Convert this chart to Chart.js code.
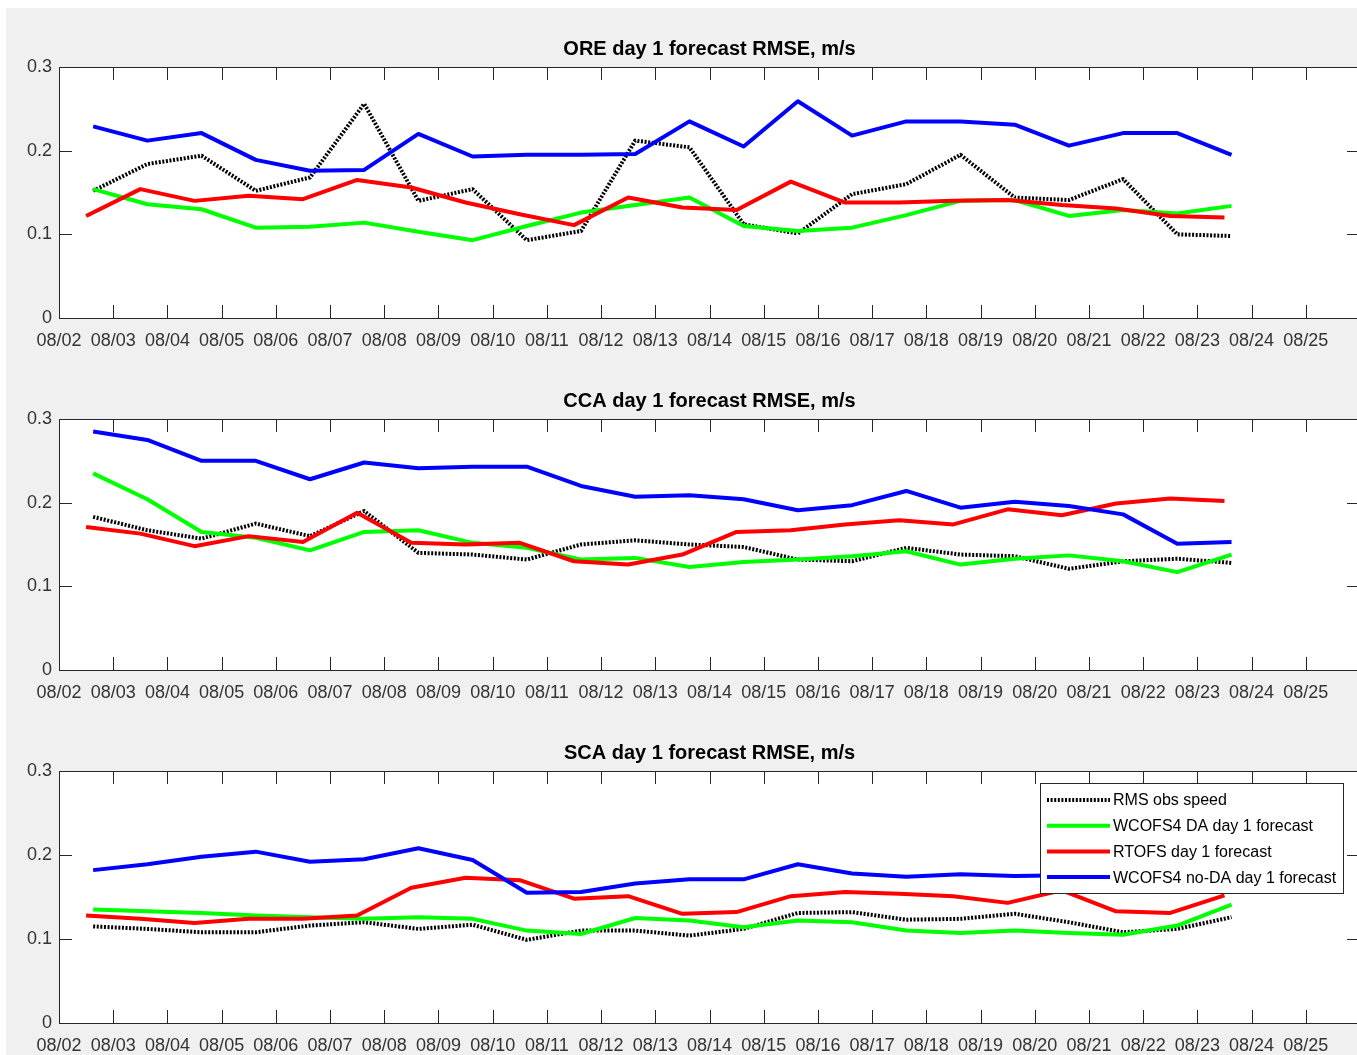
<!DOCTYPE html>
<html>
<head>
<meta charset="utf-8">
<script src="https://cdn.jsdelivr.net/npm/chart.js@4.4.1/dist/chart.umd.min.js"></script>
<style>
  html, body { margin: 0; padding: 0; background: #fff; overflow: hidden; width: 1357px; height: 1055px; }
  #figure { position: absolute; left: 6px; top: 8px; right: 0; bottom: 0; background: #f0f0f0; }
  .panel { position: absolute; left: 0; }
</style>
</head>
<body>
<div id="figure"></div>
<canvas id="oreChart" class="panel" width="1400" height="352" style="top:0px"></canvas>
<canvas id="ccaChart" class="panel" width="1400" height="352" style="top:352px"></canvas>
<canvas id="scaChart" class="panel" width="1400" height="353" style="top:704px"></canvas>
<script>
// x axis: days since 08/02
const DAY_LABELS = ['08/02', '08/03', '08/04', '08/05', '08/06', '08/07', '08/08', '08/09',
    '08/10', '08/11', '08/12', '08/13', '08/14', '08/15', '08/16', '08/17', '08/18', '08/19',
    '08/20', '08/21', '08/22', '08/23', '08/24', '08/25'];
const X_MAX = 24;
const Y_TICKS = [0, 0.1, 0.2, 0.3];
const Y_LABELS = ['0', '0.1', '0.2', '0.3'];

// forecast times (days after 08/02 00:00)
const MODEL_DAYS = [0.63, 1.63, 2.63, 3.63, 4.63, 5.63, 6.63, 7.63, 8.63, 9.63, 10.63,
    11.63, 12.63, 13.63, 14.63, 15.63, 16.63, 17.63, 18.63, 19.63, 20.63, 21.63];
const RTOFS_DAYS = [0.5, 1.5, 2.5, 3.5, 4.5, 5.5, 6.5, 7.5, 8.5, 9.5, 10.5,
    11.5, 12.5, 13.5, 14.5, 15.5, 16.5, 17.5, 18.5, 19.5, 20.5, 21.5];

const SERIES_NAMES = ['RMS obs speed', 'WCOFS4 DA day 1 forecast', 'RTOFS day 1 forecast', 'WCOFS4 no-DA day 1 forecast'];

// ORE
const ORE_OBS = [0.152, 0.184, 0.194, 0.152, 0.168, 0.256, 0.140, 0.154, 0.093, 0.104, 0.212,
    0.204, 0.112, 0.101, 0.148, 0.160, 0.195, 0.144, 0.141, 0.166, 0.100, 0.098];
const ORE_DA = [0.154, 0.136, 0.130, 0.108, 0.109, 0.114, 0.103, 0.093, 0.110, 0.126, 0.135,
    0.144, 0.110, 0.104, 0.108, 0.123, 0.140, 0.141, 0.122, 0.129, 0.125, 0.134];
const ORE_RTOFS = [0.122, 0.154, 0.140, 0.146, 0.142, 0.165, 0.156, 0.138, 0.124, 0.111, 0.144,
    0.132, 0.129, 0.163, 0.138, 0.138, 0.140, 0.141, 0.135, 0.131, 0.122, 0.120];
const ORE_NODA = [0.229, 0.212, 0.221, 0.189, 0.176, 0.177, 0.220, 0.193, 0.195, 0.195, 0.196,
    0.235, 0.205, 0.259, 0.218, 0.235, 0.235, 0.231, 0.206, 0.221, 0.221, 0.195];

// CCA
const CCA_OBS = [0.183, 0.167, 0.157, 0.175, 0.160, 0.190, 0.140, 0.138, 0.132, 0.150, 0.155,
    0.150, 0.147, 0.132, 0.130, 0.146, 0.138, 0.136, 0.121, 0.130, 0.133, 0.128];
const CCA_DA = [0.235, 0.204, 0.165, 0.158, 0.143, 0.165, 0.167, 0.152, 0.146, 0.132, 0.134,
    0.123, 0.129, 0.132, 0.136, 0.142, 0.126, 0.133, 0.137, 0.130, 0.117, 0.138];
const CCA_RTOFS = [0.171, 0.163, 0.148, 0.160, 0.153, 0.188, 0.152, 0.150, 0.152, 0.130, 0.126,
    0.138, 0.165, 0.167, 0.174, 0.179, 0.174, 0.192, 0.185, 0.199, 0.205, 0.202];
const CCA_NODA = [0.285, 0.275, 0.250, 0.250, 0.228, 0.248, 0.241, 0.243, 0.243, 0.220, 0.207,
    0.209, 0.204, 0.191, 0.197, 0.214, 0.194, 0.201, 0.196, 0.186, 0.151, 0.153];

// SCA
const SCA_OBS = [0.115, 0.112, 0.108, 0.108, 0.116, 0.120, 0.112, 0.117, 0.099, 0.110, 0.110,
    0.104, 0.112, 0.131, 0.132, 0.123, 0.124, 0.130, 0.120, 0.108, 0.112, 0.126];
const SCA_DA = [0.135, 0.133, 0.131, 0.128, 0.126, 0.124, 0.126, 0.124, 0.110, 0.106, 0.125,
    0.122, 0.114, 0.122, 0.120, 0.110, 0.107, 0.110, 0.107, 0.105, 0.116, 0.141];
const SCA_RTOFS = [0.128, 0.124, 0.119, 0.124, 0.124, 0.128, 0.161, 0.173, 0.170, 0.148, 0.151,
    0.130, 0.132, 0.151, 0.156, 0.154, 0.151, 0.143, 0.158, 0.133, 0.131, 0.152];
const SCA_NODA = [0.182, 0.189, 0.198, 0.204, 0.192, 0.195, 0.208, 0.194, 0.155, 0.156, 0.166,
    0.171, 0.171, 0.189, 0.178, 0.174, 0.177, 0.175, 0.176, 0.178, 0.180, 0.178];

const AXIS_COLOR = '#262626';
const FONT = '"Liberation Sans", Arial, Helvetica, sans-serif';
const DOT = [2, 1.6];

// line style per series, same order as SERIES_NAMES
const STYLES = [
    { color: '#000000', dash: DOT, order: 3 },
    { color: '#00ff00', dash: [], order: 2 },
    { color: '#ff0000', dash: [], order: 1 },
    { color: '#0000ff', dash: [], order: 0 },
];

Chart.defaults.font.family = FONT;
Chart.defaults.font.size = 18;
Chart.defaults.color = '#333333';

function to_points(days, values) {
    return values.map((v, i) => ({ x: days[i], y: v }));
}

// ------------------------------------------------------------------
// MATLAB-ish axes: white box, inward ticks, title, optional legend
// ------------------------------------------------------------------
const matlabAxes = {
    id: 'matlabAxes',
    beforeDraw(chart) {
        const { ctx, chartArea: a } = chart;
        ctx.save();
        ctx.fillStyle = '#ffffff';
        ctx.fillRect(a.left, a.top, a.right - a.left, a.bottom - a.top);
        ctx.restore();
    },
    afterDatasetsDraw(chart, args, opts) {
        const { ctx, chartArea: a, scales: { x, y } } = chart;
        const tick = 13;
        ctx.save();
        ctx.strokeStyle = AXIS_COLOR;
        ctx.lineWidth = 1;
        ctx.beginPath();
        for (let d = 1; d < X_MAX; d++) {
            const px = Math.round(x.getPixelForValue(d)) + 0.5;
            ctx.moveTo(px, a.top); ctx.lineTo(px, a.top + tick);
            ctx.moveTo(px, a.bottom); ctx.lineTo(px, a.bottom - tick);
        }
        Y_TICKS.slice(1, -1).forEach(v => {
            const py = Math.round(y.getPixelForValue(v)) + 0.5;
            ctx.moveTo(a.left, py); ctx.lineTo(a.left + tick, py);
            ctx.moveTo(a.right, py); ctx.lineTo(a.right - tick, py);
        });
        ctx.stroke();
        ctx.strokeRect(Math.round(a.left) + 0.5, Math.round(a.top) + 0.5,
            Math.round(a.right - a.left), Math.round(a.bottom - a.top));

        // title
        ctx.fillStyle = '#000';
        ctx.font = 'bold 20px ' + FONT;
        ctx.textAlign = 'center';
        ctx.textBaseline = 'middle';
        ctx.fillText(opts.title, (a.left + a.right) / 2, a.top - 18);

        if (opts.legend) {
            const bx = a.right - 320, by = a.top + 12, bw = 303, bh = 110;
            ctx.fillStyle = '#fff';
            ctx.fillRect(bx, by, bw, bh);
            ctx.strokeStyle = AXIS_COLOR;
            ctx.strokeRect(bx + 0.5, by + 0.5, bw, bh);
            ctx.font = '16px ' + FONT;
            ctx.textAlign = 'left';
            SERIES_NAMES.forEach((name, i) => {
                const ry = by + 17 + i * 25.7;
                ctx.strokeStyle = STYLES[i].color;
                ctx.lineWidth = 4;
                ctx.setLineDash(STYLES[i].dash);
                ctx.beginPath();
                ctx.moveTo(bx + 7, ry); ctx.lineTo(bx + 70, ry);
                ctx.stroke();
                ctx.setLineDash([]);
                ctx.fillStyle = '#000';
                ctx.fillText(name, bx + 73, ry + 1);
            });
        }
        ctx.restore();
    },
};

function create_panel(canvasId, title, series, showLegend) {
    const datasets = series.map((values, i) => ({
        label: SERIES_NAMES[i],
        data: to_points(i === 2 ? RTOFS_DAYS : MODEL_DAYS, values),
        borderColor: STYLES[i].color,
        borderDash: STYLES[i].dash,
        borderWidth: 4,
        borderJoinStyle: 'round',
        pointRadius: 0,
        fill: false,
        tension: 0,
        order: STYLES[i].order,
    }));

    new Chart(document.getElementById(canvasId), {
        type: 'line',
        data: { datasets },
        plugins: [matlabAxes],
        options: {
            responsive: false,
            animation: false,
            devicePixelRatio: 1,
            layout: { padding: { top: 67, left: 0, right: 40, bottom: 0 } },
            scales: {
                x: {
                    type: 'linear',
                    min: 0,
                    max: X_MAX,
                    grid: { display: false, drawTicks: false },
                    border: { display: false },
                    afterBuildTicks: axis => { axis.ticks = DAY_LABELS.map((_, i) => ({ value: i })); },
                    afterFit: axis => { axis.height = 34; },
                    ticks: {
                        autoSkip: false,
                        maxRotation: 0,
                        minRotation: 0,
                        padding: 12,
                        callback: v => DAY_LABELS[v],
                    },
                },
                y: {
                    min: 0,
                    max: 0.3,
                    grid: { display: false, drawTicks: false },
                    border: { display: false },
                    afterBuildTicks: axis => { axis.ticks = Y_TICKS.map(v => ({ value: v })); },
                    afterFit: axis => { axis.width = 59; },
                    ticks: {
                        padding: 7,
                        callback: (v, i) => Y_LABELS[i],
                    },
                },
            },
            plugins: {
                legend: { display: false },
                tooltip: { enabled: false },
                matlabAxes: { title, legend: showLegend },
            },
        },
    });
}

create_panel('oreChart', 'ORE day 1 forecast RMSE, m/s', [ORE_OBS, ORE_DA, ORE_RTOFS, ORE_NODA], false);
create_panel('ccaChart', 'CCA day 1 forecast RMSE, m/s', [CCA_OBS, CCA_DA, CCA_RTOFS, CCA_NODA], false);
create_panel('scaChart', 'SCA day 1 forecast RMSE, m/s', [SCA_OBS, SCA_DA, SCA_RTOFS, SCA_NODA], true);
</script>
</body>
</html>
